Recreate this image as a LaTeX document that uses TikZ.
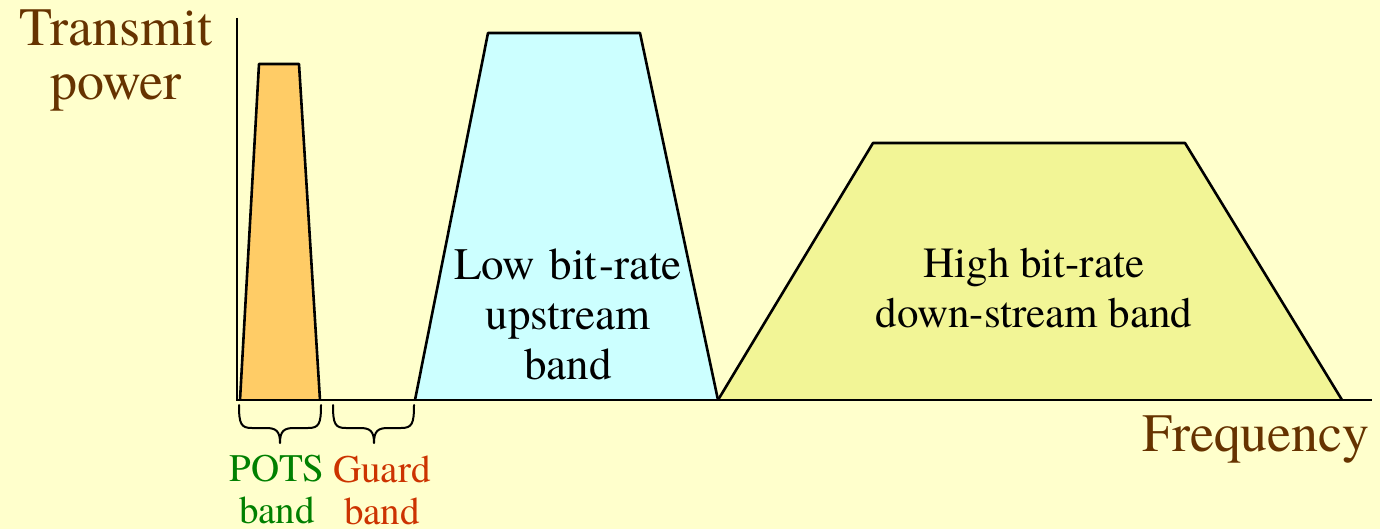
\documentclass[tikz,border=0pt]{standalone}
\usepackage{fontspec}
\IfFontExistsTF{texgyretermes-regular.otf}{\newfontfamily\tnr{texgyretermes-regular.otf}}{\newfontfamily\tnr{Liberation Serif}}
\definecolor{bg}{RGB}{255,255,204}
\definecolor{potsfill}{RGB}{255,204,102}
\definecolor{upfill}{RGB}{204,255,255}
\definecolor{downfill}{RGB}{242,245,150}
\definecolor{brownlab}{RGB}{102,51,0}
\definecolor{greenlab}{RGB}{0,128,0}
\definecolor{redlab}{RGB}{204,51,0}
\tikzset{
  band/.style={draw=black, line width=2.6pt, line join=round},
  axis/.style={draw=black, line width=2pt},
  bracestyle/.style={draw=black, line width=2pt, line cap=round, line join=round},
  axislabel/.style={text=brownlab, font=\tnr\fontsize{54}{55}\selectfont, align=center, inner sep=0pt},
  bandlabel/.style={text=black, font=\tnr\fontsize{43}{50}\selectfont, align=center, inner sep=0pt},
  smalllabel/.style={font=\tnr\fontsize{39}{42}\selectfont, align=center, inner sep=0pt},
}
\begin{document}
\begin{tikzpicture}[x=1pt,y=-1pt]
\useasboundingbox[fill=bg] (0,0) rectangle (1380,529);
% bands
\draw[band, fill=potsfill] (240,400) -- (259,64) -- (299,64) -- (320,400);
\draw[band, fill=upfill] (415,400) -- (488,33) -- (640,33) -- (718,400);
\draw[band, fill=downfill] (718,400) -- (873,143) -- (1185,143) -- (1342,400);
% axes
\coordinate (ytop) at (237,18);
\coordinate (orig) at (237,400);
\coordinate (xend) at (1372,400);
\draw[axis] (ytop) -- (orig) -- (xend);
% braces
\draw[bracestyle] (239,405) .. controls (239,424) and (241,428) .. (252,428) -- (266,428)
  .. controls (276,428) and (280,431) .. (280,443)
  .. controls (280,431) and (284,428) .. (294,428) -- (308,428)
  .. controls (319,428) and (321,424) .. (321,405);
\draw[bracestyle] (333,405) .. controls (333,424) and (335,428) .. (346,428) -- (360,428)
  .. controls (370,428) and (374,431) .. (374,443)
  .. controls (374,431) and (378,428) .. (388,428) -- (401,428)
  .. controls (412,428) and (414,424) .. (414,405);
% labels
\node[axislabel] (tp) at (116,60) {Transmit\\[-1pt]power};
\node[axislabel, anchor=east] (freq) at (1370,440) {Frequency};
\node[bandlabel, font=\tnr\fontsize{45}{50}\selectfont] (low) at (568,314) {Low\hspace{3pt} bit\hspace{2pt}-rate\\upstream\\band};
\node[bandlabel] (high) at (1034,288) {High bit-rate\\down-stream band};
\node[smalllabel, text=greenlab] (pots) at (277,490) {POTS\\band};
\node[smalllabel, text=redlab] (guard) at (382,490) {Guard\\band};
\end{tikzpicture}
\end{document}
